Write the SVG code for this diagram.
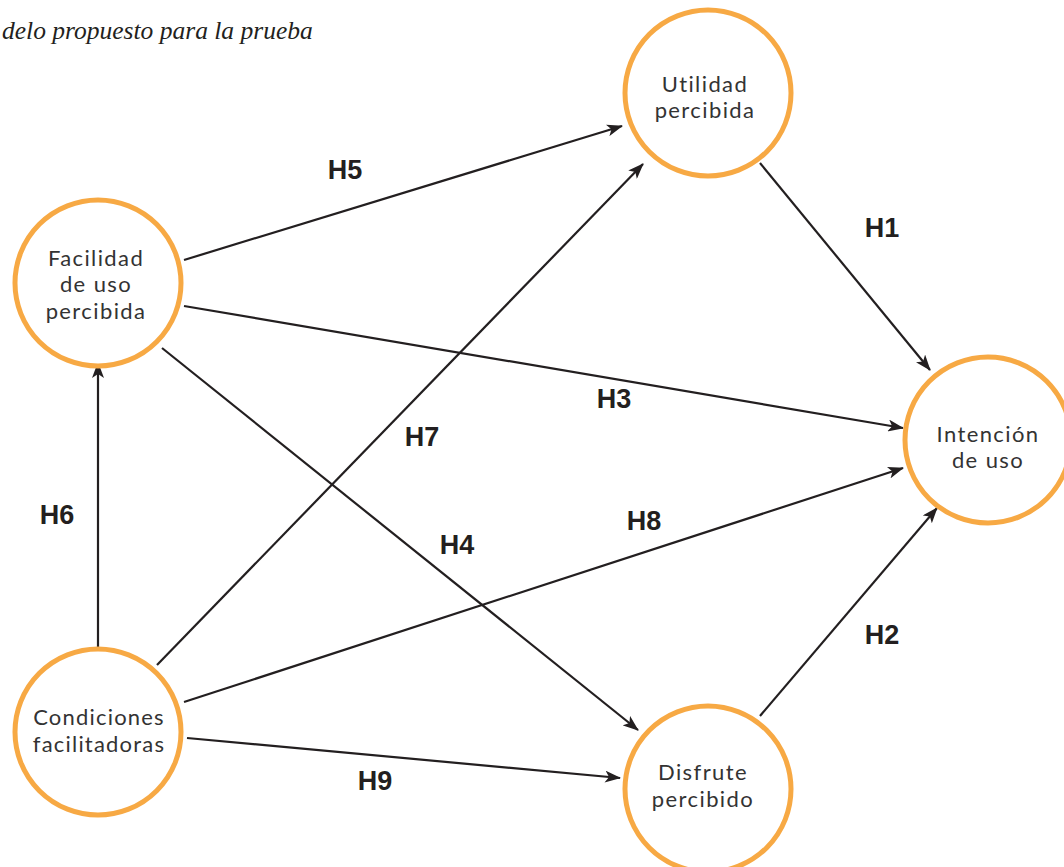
<svg xmlns="http://www.w3.org/2000/svg" width="1064" height="867" viewBox="0 0 1064 867">
<defs>
<style>
.node{fill:#fff;stroke:#F7A944;stroke-width:5}
.lbl{font-family:Lato,"Noto Sans",sans-serif;font-size:22px;letter-spacing:1.4px;font-variant-ligatures:none;fill:#333;text-anchor:middle}
.h{font-family:"Liberation Sans",Arial,sans-serif;font-weight:bold;font-size:27px;fill:#231F20;text-anchor:middle}
.edge{stroke:#231F20;stroke-width:2.2;fill:none;marker-end:url(#ah)}
.title{font-family:"Liberation Serif","Times New Roman",serif;font-style:italic;font-size:25.5px;fill:#231F20}
</style>
<marker id="ah" viewBox="0 0 16 12" markerWidth="16" markerHeight="12" refX="15" refY="6" orient="auto" markerUnits="userSpaceOnUse">
<path d="M0,0 L16,6 L0,12 L4,6 z" fill="#231F20"/>
</marker>
</defs>
<rect width="1064" height="867" fill="#fff"/>
<text class="title" x="2" y="39">delo propuesto para la prueba</text>
<g id="connectors">
<line class="edge" x1="184" y1="260" x2="622" y2="126"/>
<line class="edge" x1="760" y1="163" x2="930" y2="370"/>
<line class="edge" x1="184" y1="306" x2="903" y2="428"/>
<line class="edge" x1="162" y1="348" x2="638" y2="730"/>
<line class="edge" x1="157" y1="665" x2="643" y2="164"/>
<line class="edge" x1="98" y1="648" x2="98" y2="363"/>
<line class="edge" x1="184" y1="702" x2="903" y2="468"/>
<line class="edge" x1="187" y1="738" x2="620" y2="778"/>
<line class="edge" x1="760" y1="716" x2="937" y2="508"/>
<text class="h" x="345" y="179">H5</text>
<text class="h" x="882" y="237">H1</text>
<text class="h" x="614" y="408">H3</text>
<text class="h" x="422" y="446">H7</text>
<text class="h" x="57" y="524">H6</text>
<text class="h" x="644" y="530">H8</text>
<text class="h" x="457" y="554">H4</text>
<text class="h" x="882" y="644">H2</text>
<text class="h" x="375" y="790">H9</text>
</g>
<g id="utilidad">
<circle class="node" cx="708" cy="93" r="83"/>
<text class="lbl" x="705" y="91.5">Utilidad</text>
<text class="lbl" x="705" y="118">percibida</text>
</g>
<g id="facilidad">
<circle class="node" cx="98" cy="283" r="83"/>
<text class="lbl" x="96" y="265.5">Facilidad</text>
<text class="lbl" x="96" y="292">de uso</text>
<text class="lbl" x="96" y="318.5">percibida</text>
</g>
<g id="condiciones">
<circle class="node" cx="98" cy="732" r="83"/>
<text class="lbl" x="99" y="725" style="letter-spacing:1.2px">Condiciones</text>
<text class="lbl" x="99" y="752" style="letter-spacing:1.2px">facilitadoras</text>
</g>
<g id="intencion">
<circle class="node" cx="988" cy="440" r="83"/>
<text class="lbl" x="988" y="441.5">Intención</text>
<text class="lbl" x="988" y="468">de uso</text>
</g>
<g id="disfrute">
<circle class="node" cx="708" cy="789" r="83"/>
<text class="lbl" x="703" y="780">Disfrute</text>
<text class="lbl" x="703" y="807">percibido</text>
</g>
</svg>
